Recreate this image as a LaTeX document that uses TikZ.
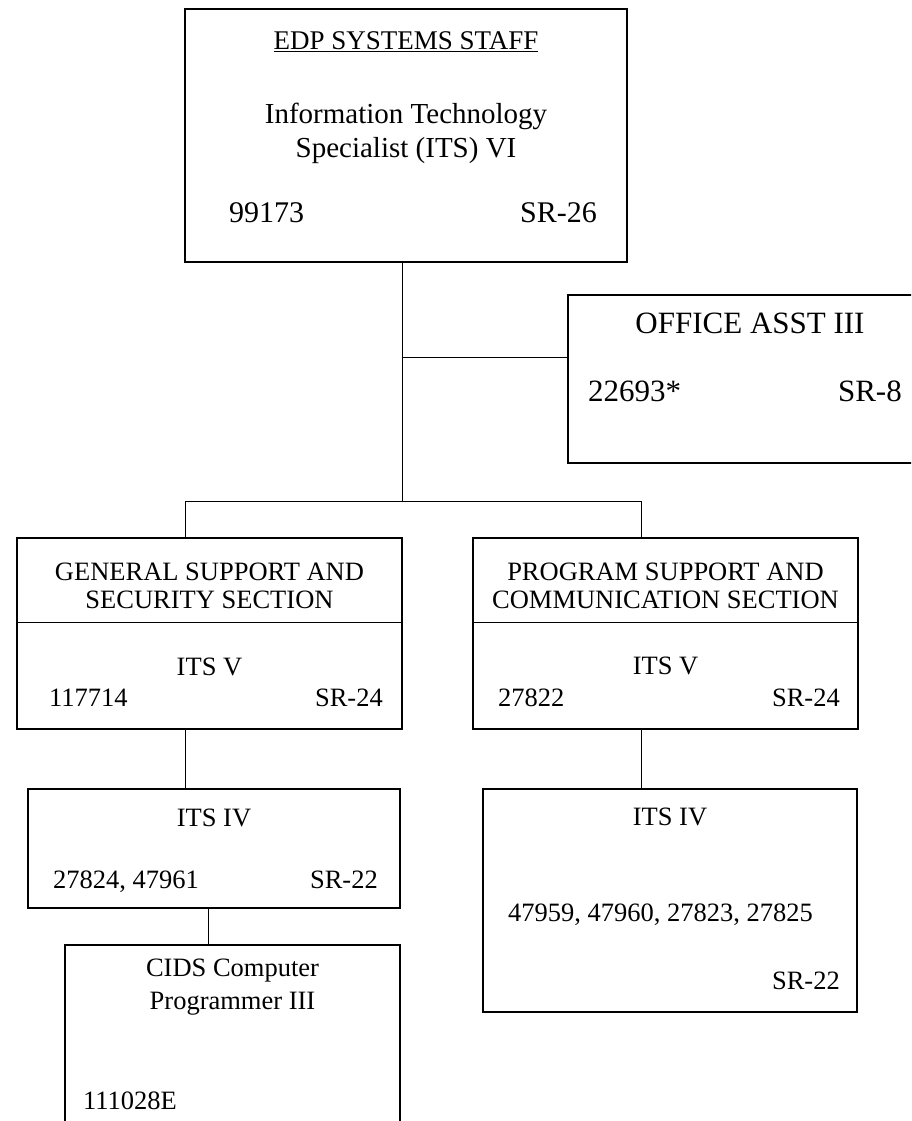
\documentclass[tikz,border=0pt]{standalone}
\usepackage{fontspec}
\setmainfont{Liberation Serif}
\begin{document}
\begin{tikzpicture}[x=1pt,y=-1pt,
  box/.style={draw, line width=2pt, rectangle, inner sep=0pt, outer sep=0pt, anchor=north west},
  link/.style={line width=1pt},
  lbl/.style={inner sep=0pt, align=center},
  fsHead/.style={font=\fontsize{27}{31}\selectfont},
  fsTitle/.style={font=\fontsize{29}{34}\selectfont},
  fsTop/.style={font=\fontsize{30}{34}\selectfont},
  fsOffice/.style={font=\fontsize{31}{35}\selectfont},
  fsSec/.style={font=\fontsize{26.5}{28}\selectfont},
  fsCids/.style={font=\fontsize{26.5}{33}\selectfont}
]
\useasboundingbox (0,0) rectangle (911,1121);
\clip (0,0) rectangle (911,1121);

% Director
\node[box, minimum width=442pt, minimum height=253pt] (top) at (185,9) {};
\node[lbl, fsHead] (topHead) at (406,42) {\underline{EDP SYSTEMS STAFF}};
\node[lbl, fsTitle] (topTitle) at (406,133) {Information Technology\\Specialist (ITS) VI};
\node[lbl, fsTop, anchor=base west] (topNum) at (229,222) {99173};
\node[lbl, fsTop, anchor=base east] (topGrade) at (597,222) {SR-26};

% Office assistant (runs off the right edge)
\node[box, minimum width=360pt, minimum height=168pt] (office) at (568,295) {};
\node[lbl, fsOffice] (offTitle) at (750,323) {OFFICE ASST III};
\node[lbl, fsOffice, anchor=base west] (offNum) at (588,401) {22693*};
\node[lbl, fsOffice, anchor=base east] (offGrade) at (902,401) {SR-8};

% General support section
\node[box, minimum width=385pt, minimum height=191pt] (gss) at (17,538) {};
\draw[link] ([yshift=-84pt]gss.north west) -- ([yshift=-84pt]gss.north east);
\node[lbl, fsSec] (gssTitle) at (209.5,586) {GENERAL SUPPORT AND\\SECURITY SECTION};
\node[lbl, fsSec] (gssRank) at (209.5,667) {ITS V};
\node[lbl, fsSec, anchor=base west] (gssNum) at (49,706) {117714};
\node[lbl, fsSec, anchor=base east] (gssGrade) at (383,706) {SR-24};

% Program support section
\node[box, minimum width=385pt, minimum height=191pt] (pcs) at (473,538) {};
\draw[link] ([yshift=-84pt]pcs.north west) -- ([yshift=-84pt]pcs.north east);
\node[lbl, fsSec] (pcsTitle) at (665.5,586) {PROGRAM SUPPORT AND\\COMMUNICATION SECTION};
\node[lbl, fsSec] (pcsRank) at (665.5,666) {ITS V};
\node[lbl, fsSec, anchor=base west] (pcsNum) at (498,706) {27822};
\node[lbl, fsSec, anchor=base east] (pcsGrade) at (840,706) {SR-24};

% ITS IV under general support
\node[box, minimum width=372pt, minimum height=119pt] (itsL) at (28,789) {};
\node[lbl, fsSec] (itsLRank) at (214,818) {ITS IV};
\node[lbl, fsSec, anchor=base west] (itsLNum) at (53,888) {27824, 47961};
\node[lbl, fsSec, anchor=base east] (itsLGrade) at (378,888) {SR-22};

% ITS IV under program support
\node[box, minimum width=374pt, minimum height=223pt] (itsR) at (483,789) {};
\node[lbl, fsSec] (itsRRank) at (670,817) {ITS IV};
\node[lbl, fsSec, anchor=base west] (itsRNum) at (508,921) {47959, 47960, 27823, 27825};
\node[lbl, fsSec, anchor=base east] (itsRGrade) at (840,989) {SR-22};

% CIDS programmer (runs off the bottom edge)
\node[box, minimum width=335pt, minimum height=200pt] (cids) at (65,945) {};
\node[lbl, fsCids] (cidsTitle) at (232.5,987) {CIDS Computer\\Programmer III};
\node[lbl, fsSec, anchor=base west] (cidsNum) at (83,1109) {111028E};

% Connectors
\coordinate (jOffice) at (402,357);
\coordinate (jBus) at (402,501);
\coordinate (dropL) at (185,501);
\coordinate (dropR) at (641,501);
\coordinate (dropC) at (208,930);
\draw[link] (top.south -| jOffice) -- (jBus);
\draw[link] (jOffice) -- (office.west |- jOffice);
\draw[link] (dropL) -- (dropR);
\draw[link] (dropL) -- (gss.north -| dropL);
\draw[link] (dropR) -- (pcs.north -| dropR);
\draw[link] (gss.south -| dropL) -- (itsL.north -| dropL);
\draw[link] (pcs.south -| dropR) -- (itsR.north -| dropR);
\draw[link] (itsL.south -| dropC) -- (cids.north -| dropC);
\end{tikzpicture}
\end{document}
